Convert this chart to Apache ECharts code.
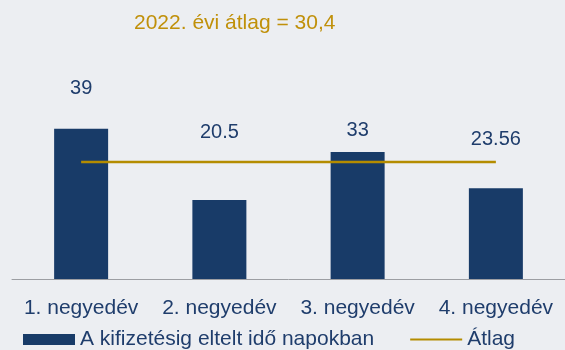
<!DOCTYPE html>
<html>
<head>
<meta charset="utf-8">
<script src="https://cdn.jsdelivr.net/npm/echarts@6/dist/echarts.min.js"></script>
<style>
  html, body { margin: 0; padding: 0; background: #eceef2; }
  #chart { width: 565px; height: 350px; }
</style>
</head>
<body>
<div id="chart"></div>
<script>
// Quarterly payment times (days) and the yearly average
const categories = ['1. negyedév', '2. negyedév', '3. negyedév', '4. negyedév'];
const daysToPayment = [39, 20.5, 33, 23.56];
const yearlyAverage = 30.4;
const barSeriesName = 'A kifizetésig eltelt idő napokban';
const avgSeriesName = 'Átlag';

// Vertical lift of each value label above its bar (pixels)
const labelLift = [25, 53, 6, 34];

const FONT = '"Liberation Sans", Arial, sans-serif';
const NAVY = '#183b68';
const GOLD = '#b48c00';
const TEXT_BLUE = '#1f3d6c';

// Thin horizontal stroke for the legend entry of the average line
const thinLineIcon = 'path://M0,4.6H52V6.6H0Z M0,0H0.001V0.001H0Z M52,11H52.001V11.001H52Z';

const chart = echarts.init(document.getElementById('chart'));

chart.setOption({
  backgroundColor: '#eceef2',
  animation: false,
  title: {
    text: '2022. évi átlag = ' + String(yearlyAverage).replace('.', ','),
    left: 129,
    top: 8,
    textStyle: { color: '#c0900a', fontSize: 21, fontWeight: 'normal', fontFamily: FONT }
  },
  grid: { left: 12, right: 0, top: 48, bottom: 71 },
  legend: {
    left: 18,
    top: 324,
    itemWidth: 52,
    itemHeight: 11,
    itemGap: 36,
    textStyle: { color: TEXT_BLUE, fontSize: 21, fontFamily: FONT },
    data: [
      { name: barSeriesName, icon: 'rect' },
      { name: avgSeriesName, icon: thinLineIcon, itemStyle: { color: GOLD } }
    ]
  },
  xAxis: {
    type: 'category',
    data: categories,
    axisLine: { lineStyle: { color: '#9c9ea3', width: 1 } },
    axisTick: { show: false },
    axisLabel: { color: TEXT_BLUE, fontSize: 21, fontFamily: FONT, margin: 19, interval: 0 }
  },
  yAxis: {
    type: 'value',
    min: 0,
    max: 60,
    show: false,
    splitLine: { show: false }
  },
  series: [
    {
      name: barSeriesName,
      type: 'bar',
      barWidth: 54,
      itemStyle: { color: NAVY },
      data: daysToPayment.map((v, i) => ({
        value: v,
        label: { offset: [0, -labelLift[i]] }
      })),
      label: {
        show: true,
        position: 'top',
        distance: 5,
        color: TEXT_BLUE,
        fontSize: 20,
        fontFamily: FONT
      }
    },
    {
      name: avgSeriesName,
      type: 'line',
      data: categories.map(() => yearlyAverage),
      symbol: 'none',
      lineStyle: { color: GOLD, width: 2.5 },
      itemStyle: { color: GOLD },
      z: 3
    }
  ]
});
</script>
</body>
</html>
